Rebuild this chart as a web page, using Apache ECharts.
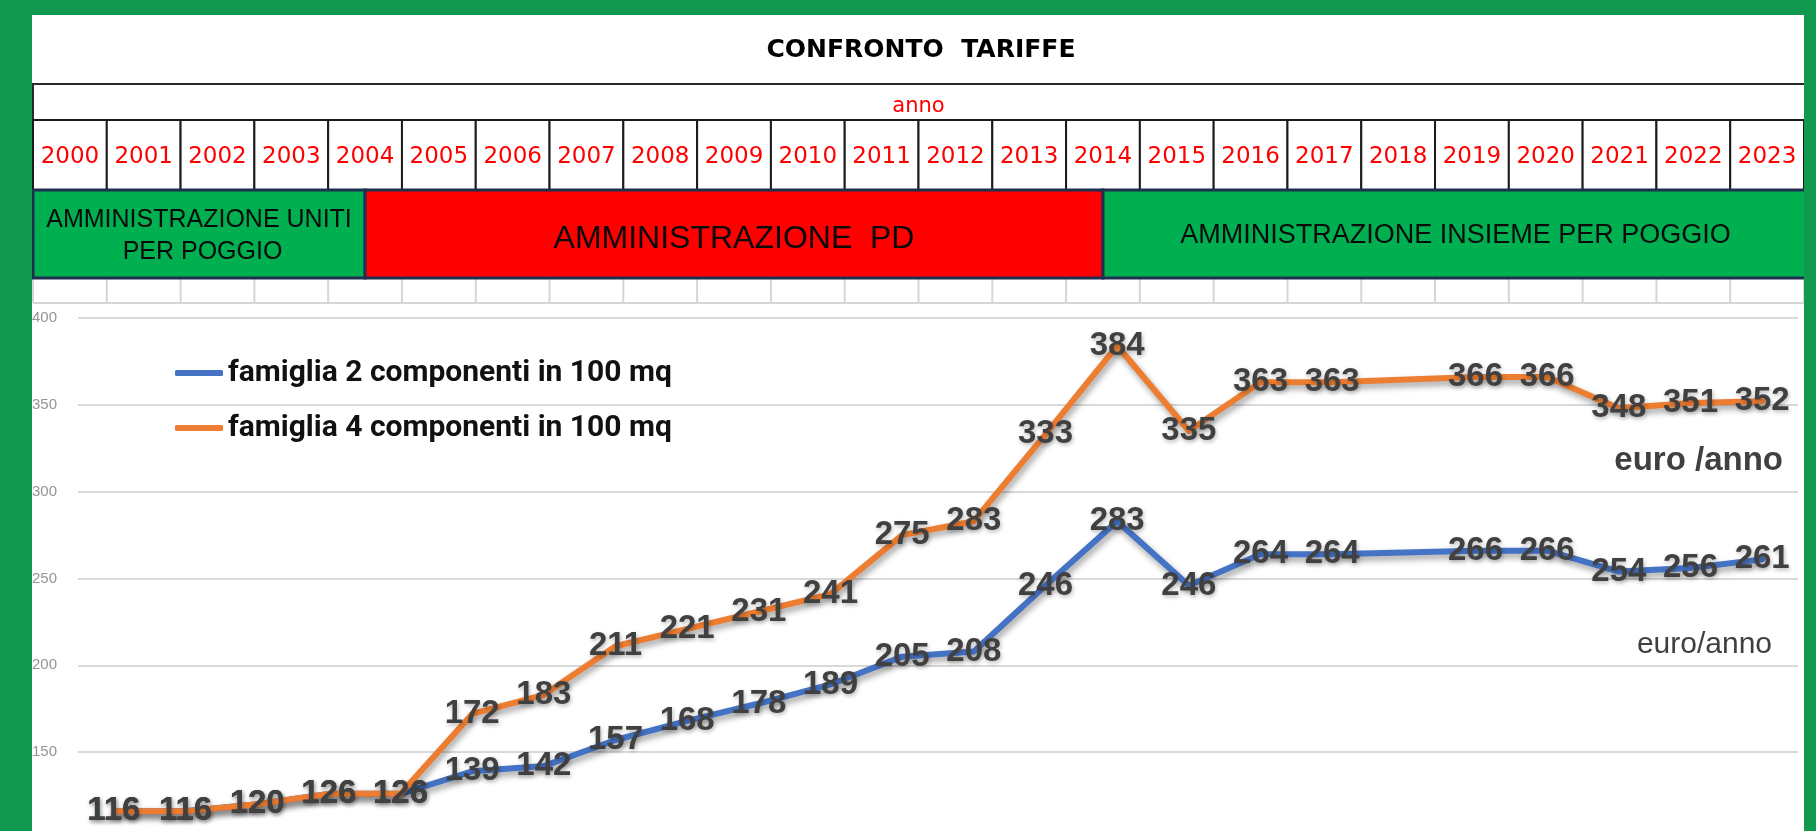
<!DOCTYPE html>
<html>
<head>
<meta charset="utf-8">
<script src="https://cdn.jsdelivr.net/npm/echarts@6/dist/echarts.min.js"></script>
<style>
html,body{margin:0;padding:0;background:#10994f;}
#chart{width:1816px;height:831px;}
</style>
</head>
<body>
<div id="chart"></div>
<script>
// ---- data ----
const YEARS = [2000, 2001, 2002, 2003, 2004, 2005, 2006, 2007, 2008, 2009, 2010, 2011,
               2012, 2013, 2014, 2015, 2016, 2017, 2018, 2019, 2020, 2021, 2022, 2023];
const FAM2 = [116, 116, 120, 126, 126, 139, 142, 157, 168, 178, 189, 205,
              208, 246, 283, 246, 264, 264, null, 266, 266, 254, 256, 261];
const FAM4 = [116, 116, 120, 126, 126, 172, 183, 211, 221, 231, 241, 275,
              283, 333, 384, 335, 363, 363, null, 366, 366, 348, 351, 352];
const SERIES_NAMES = ['famiglia 2 componenti in 100 mq', 'famiglia 4 componenti in 100 mq'];
const ADMIN_NAMES = ['AMMINISTRAZIONE UNITI PER POGGIO', 'AMMINISTRAZIONE  PD', 'AMMINISTRAZIONE INSIEME PER POGGIO'];
const ADMIN_FROM = [2000, 2004, 2014];
const ADMIN_TO = [2004, 2014, 2023];
const Y_MIN = 100, Y_MAX = 400, Y_STEP = 50;
const TITLE = 'CONFRONTO  TARIFFE';
const HEADER_LABEL = 'anno';
const UNIT_4 = 'euro /anno';
const UNIT_2 = 'euro/anno';

// ---- styles ----
const GREEN_BG = '#10994f';
const ADMIN_COLORS = ['#00b050', '#ff0000', '#00b050'];
const ADMIN_FONT = [25, 32, 27];
const ADMIN_DY = [2, 5, 2];
const ROWS = { anno: 36, year: 70, admin: 88, sheet: 25 };
const LINE_COLORS = ['#4472c4', '#ed7d31'];

const chart = echarts.init(document.getElementById('chart'), null, { renderer: 'canvas' });

function renderAnnoRow(params, api) {
  const cs = params.coordSys;
  const w = api.size([1, 0])[0];
  const x0 = api.coord([api.value(0), 0])[0] - w / 2;
  const x1 = api.coord([api.value(1), 0])[0] + w / 2;
  const sheetTop = cs.y + ROWS.anno + ROWS.year + ROWS.admin;
  return {
    type: 'group',
    children: [
      { type: 'rect', shape: { x: x0, y: cs.y, width: x1 - x0 + 4, height: ROWS.anno },
        style: { fill: '#ffffff', stroke: '#2a2a2a', lineWidth: 2 } },
      { type: 'text', x: (x0 + x1) / 2, y: cs.y + ROWS.anno / 2 + 5,
        style: { text: HEADER_LABEL, align: 'center', verticalAlign: 'middle',
                 textAlign: 'center', textVerticalAlign: 'middle',
                 fill: '#ff0000', font: '21px "DejaVu Sans"' } },
      { type: 'line', shape: { x1: x0, y1: sheetTop, x2: x0, y2: cs.y + cs.height },
        style: { stroke: '#d6d6d6', lineWidth: 2 } },
      { type: 'line', shape: { x1: x0, y1: cs.y + cs.height, x2: x1 + 4, y2: cs.y + cs.height },
        style: { stroke: '#d6d6d6', lineWidth: 2 } }
    ]
  };
}

function renderYearCell(params, api) {
  const cs = params.coordSys;
  const cx = api.coord([api.value(0), 0])[0];
  const w = api.size([1, 0])[0];
  const x0 = cx - w / 2;
  const yTop = cs.y + ROWS.anno;
  const sheetTop = yTop + ROWS.year + ROWS.admin;
  return {
    type: 'group',
    children: [
      { type: 'rect', shape: { x: x0, y: yTop, width: w, height: ROWS.year },
        style: { fill: '#ffffff', stroke: '#1b1b1b', lineWidth: 2 } },
      { type: 'text', x: cx, y: yTop + ROWS.year / 2 + 2,
        style: { text: String(YEARS[params.dataIndex]), align: 'center', verticalAlign: 'middle',
                 textAlign: 'center', textVerticalAlign: 'middle',
                 fill: '#ff0000', font: '23px "DejaVu Sans"' } },
      { type: 'line', shape: { x1: x0 + w, y1: sheetTop, x2: x0 + w, y2: cs.y + cs.height },
        style: { stroke: '#d6d6d6', lineWidth: 2 } }
    ]
  };
}

function renderAdmin(params, api) {
  const cs = params.coordSys;
  const i = params.dataIndex;
  const s = api.value(0), e = api.value(1);
  const w = api.size([1, 0])[0];
  let x0 = api.coord([s, 0])[0];
  let x1 = api.coord([e, 0])[0];
  if (s === 0) x0 -= w / 2;
  if (e === YEARS.length - 1) x1 += w / 2 + 4;
  const yTop = cs.y + ROWS.anno + ROWS.year;
  return {
    type: 'group',
    children: [
      { type: 'rect', shape: { x: x0, y: yTop, width: x1 - x0, height: ROWS.admin },
        style: { fill: ADMIN_COLORS[i], stroke: '#1f2f4f', lineWidth: 3 } },
      { type: 'text', x: (x0 + x1) / 2, y: yTop + ROWS.admin / 2 + ADMIN_DY[i],
        style: { text: ADMIN_NAMES[i], width: x1 - x0 - 20, overflow: 'break',
                 align: 'center', verticalAlign: 'middle',
                 textAlign: 'center', textVerticalAlign: 'middle',
                 lineHeight: 32, fill: '#0a0a0a',
                 font: ADMIN_FONT[i] + 'px "Liberation Sans"' } }
    ]
  };
}

const labelStyle = {
  show: true,
  position: 'inside',
  color: '#404040',
  fontSize: 33,
  fontWeight: 'bold',
  fontFamily: 'Liberation Sans',
  textShadowColor: 'rgba(0,0,0,0.28)',
  textShadowBlur: 4,
  textShadowOffsetX: 1,
  textShadowOffsetY: 2
};

function lineSeries(idx, values) {
  return {
    type: 'line',
    name: SERIES_NAMES[idx],
    xAxisIndex: 1,
    yAxisIndex: 1,
    data: values,
    connectNulls: true,
    symbol: 'circle',
    symbolSize: 2,
    itemStyle: { color: LINE_COLORS[idx] },
    lineStyle: {
      color: LINE_COLORS[idx], width: 6, cap: 'round', join: 'round',
      shadowColor: 'rgba(0,0,0,0.38)', shadowBlur: 6, shadowOffsetX: 2, shadowOffsetY: 4
    },
    label: labelStyle,
    z: 3 + idx
  };
}

const option = {
  backgroundColor: '#ffffff',
  animation: false,
  grid: [
    { left: 33, right: 12, top: 84, height: ROWS.anno + ROWS.year + ROWS.admin + ROWS.sheet,
      outerBoundsMode: 'none', containLabel: false },
    { left: 78, right: 18, top: 318, height: 521, outerBoundsMode: 'none', containLabel: false }
  ],
  xAxis: [
    { gridIndex: 0, type: 'value', min: -0.5, max: YEARS.length - 0.5, show: false },
    { gridIndex: 1, type: 'category', data: YEARS.map(String), boundaryGap: true, show: false }
  ],
  yAxis: [
    { gridIndex: 0, type: 'value', min: 0, max: 1, show: false },
    { gridIndex: 1, type: 'value', min: Y_MIN, max: Y_MAX, interval: Y_STEP,
      axisLine: { show: false }, axisTick: { show: false },
      axisLabel: { color: '#959595', fontSize: 15, margin: 21, fontFamily: 'Liberation Sans' },
      splitLine: { lineStyle: { color: '#d9d9d9', width: 2 } } }
  ],
  legend: {
    orient: 'vertical',
    left: 175,
    top: 356,
    padding: 0,
    itemWidth: 48,
    itemHeight: 6,
    itemGap: 21,
    icon: 'roundRect',
    data: SERIES_NAMES,
    textStyle: { fontSize: 30, fontWeight: 'bold', color: '#111111', lineHeight: 34,
                 fontFamily: 'Roboto' }
  },
  graphic: [
    { type: 'text', x: 921, y: 50, z: 10,
      style: { text: TITLE, align: 'center', verticalAlign: 'middle', textAlign: 'center', textVerticalAlign: 'middle',
               fill: '#000000', font: 'bold 25px "DejaVu Sans"' } },
    { type: 'text', x: 1783, y: 461, z: 10,
      style: { text: UNIT_4, align: 'right', verticalAlign: 'middle', textAlign: 'right', textVerticalAlign: 'middle',
               fill: '#404040', font: 'bold 33px "Liberation Sans"' } },
    { type: 'text', x: 1772, y: 645, z: 10,
      style: { text: UNIT_2, align: 'right', verticalAlign: 'middle', textAlign: 'right', textVerticalAlign: 'middle',
               fill: '#404040', font: '30px "Liberation Sans"' } },
    { type: 'rect', z: 100, shape: { x: 0, y: 0, width: 32, height: 831 }, style: { fill: GREEN_BG } },
    { type: 'rect', z: 100, shape: { x: 0, y: 0, width: 1816, height: 15 }, style: { fill: GREEN_BG } },
    { type: 'rect', z: 100, shape: { x: 1804, y: 0, width: 12, height: 831 }, style: { fill: GREEN_BG } }
  ],
  series: [
    { type: 'custom', xAxisIndex: 0, yAxisIndex: 0, renderItem: renderAnnoRow,
      data: [[0, YEARS.length - 1]], silent: true, z: 1 },
    { type: 'custom', xAxisIndex: 0, yAxisIndex: 0, renderItem: renderYearCell,
      data: YEARS.map((y, i) => [i]), encode: { x: 0 }, silent: true, z: 2 },
    { type: 'custom', xAxisIndex: 0, yAxisIndex: 0, renderItem: renderAdmin,
      data: ADMIN_FROM.map((f, i) => [YEARS.indexOf(f), YEARS.indexOf(ADMIN_TO[i])]), silent: true, z: 3 },
    lineSeries(0, FAM2),
    lineSeries(1, FAM4)
  ]
};
chart.setOption(option);
</script>
</body>
</html>
